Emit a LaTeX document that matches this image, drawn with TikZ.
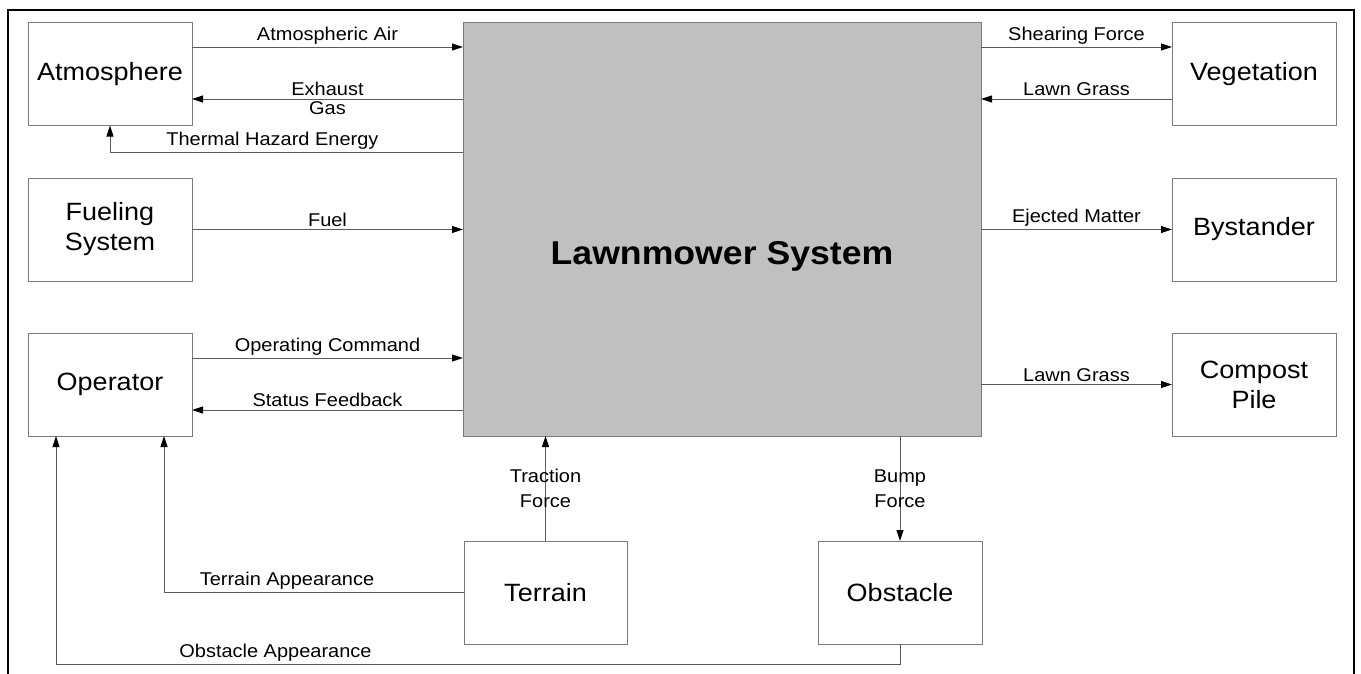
\documentclass[tikz,border=0pt]{standalone}
\usepackage{fontspec}
\setmainfont{Liberation Sans}[FakeStretch=1.08]
\usetikzlibrary{arrows.meta,calc}
\definecolor{linec}{HTML}{5A5A5A}
\definecolor{boxc}{HTML}{7A7A7A}
\definecolor{mainfill}{HTML}{C0C0C0}
\tikzset{
  blk/.style={draw=boxc, line width=1pt, minimum width=164pt, minimum height=103pt, inner sep=0pt, outer sep=0pt, align=center, font=\fontsize{25}{30}\selectfont, text=black},
  arr/.style={draw=linec, line width=1pt, -{Triangle[length=11pt,width=7pt,color=black,fill=black]}},
  lbl/.style={font=\fontsize{18.5}{25}\selectfont, inner sep=2.5pt, text=black, align=center},
}
\begin{document}
\begin{tikzpicture}[x=1pt,y=-1pt]
\clip (0,0) rectangle (1361,673);
\useasboundingbox (0,0) rectangle (1361,673);
\draw[line width=2.5pt, black] (8,10) rectangle (1354,700);

\node[blk, fill=mainfill, minimum width=518pt, minimum height=414pt] (main) at (722,229) {};
\node[font=\fontsize{33}{40}\bfseries\selectfont] (title) at (722,256) {Lawnmower System};

\node[blk] (atm) at (110,74) {Atmosphere};
\node[blk] (fuel) at (110,229.5) {Fueling\\System};
\node[blk] (op) at (110,384.5) {Operator};
\node[blk] (veg) at (1254,74) {Vegetation};
\node[blk] (bys) at (1254,229.5) {Bystander};
\node[blk] (comp) at (1254,384.5) {Compost\\Pile};
\node[blk, minimum width=163pt] (terr) at (545.5,592.5) {Terrain};
\node[blk] (obs) at (900,592.5) {Obstacle};

% left side
\draw[arr] ([yshift=27pt]atm.east) -- node[lbl, above] {Atmospheric Air} ([yshift=27pt]atm.east -| main.west);
\draw[arr] ([yshift=-25pt]atm.east -| main.west) -- node[lbl, above] {Exhaust} node[lbl, below] {Gas} ([yshift=-25pt]atm.east);
\draw[arr] ([yshift=77pt]main.west) -| node[lbl, above, pos=0.27] {Thermal Hazard Energy} (atm.south);
\draw[arr] (fuel.east) -- node[lbl, above] {Fuel} (fuel.east -| main.west);
\draw[arr] ([yshift=26.5pt]op.east) -- node[lbl, above] {Operating Command} ([yshift=26.5pt]op.east -| main.west);
\draw[arr] ([yshift=-25.5pt]op.east -| main.west) -- node[lbl, above] {Status Feedback} ([yshift=-25.5pt]op.east);
\draw[arr] (terr.west) -| node[lbl, above, pos=0.295] {Terrain Appearance} ([xshift=54pt]op.south);
\coordinate (obsdown) at ($(obs.south)+(0,20)$);
\draw[arr] (obs.south) -- (obsdown) -| node[lbl, above, pos=0.37] {Obstacle Appearance} ([xshift=-54pt]op.south);

% bottom
\draw[arr] (terr.north) -- node[lbl, midway] {Traction\\Force} (terr.north |- main.south);
\draw[arr] (obs.north |- main.south) -- node[lbl, midway] {Bump\\Force} (obs.north);

% right side
\draw[arr] ([yshift=27pt]veg.west -| main.east) -- node[lbl, above] {Shearing Force} ([yshift=27pt]veg.west);
\draw[arr] ([yshift=-25pt]veg.west) -- node[lbl, above] {Lawn Grass} ([yshift=-25pt]veg.west -| main.east);
\draw[arr] (bys.west -| main.east) -- node[lbl, above] {Ejected Matter} (bys.west);
\draw[arr] (comp.west -| main.east) -- node[lbl, above] {Lawn Grass} (comp.west);
\end{tikzpicture}
\end{document}
